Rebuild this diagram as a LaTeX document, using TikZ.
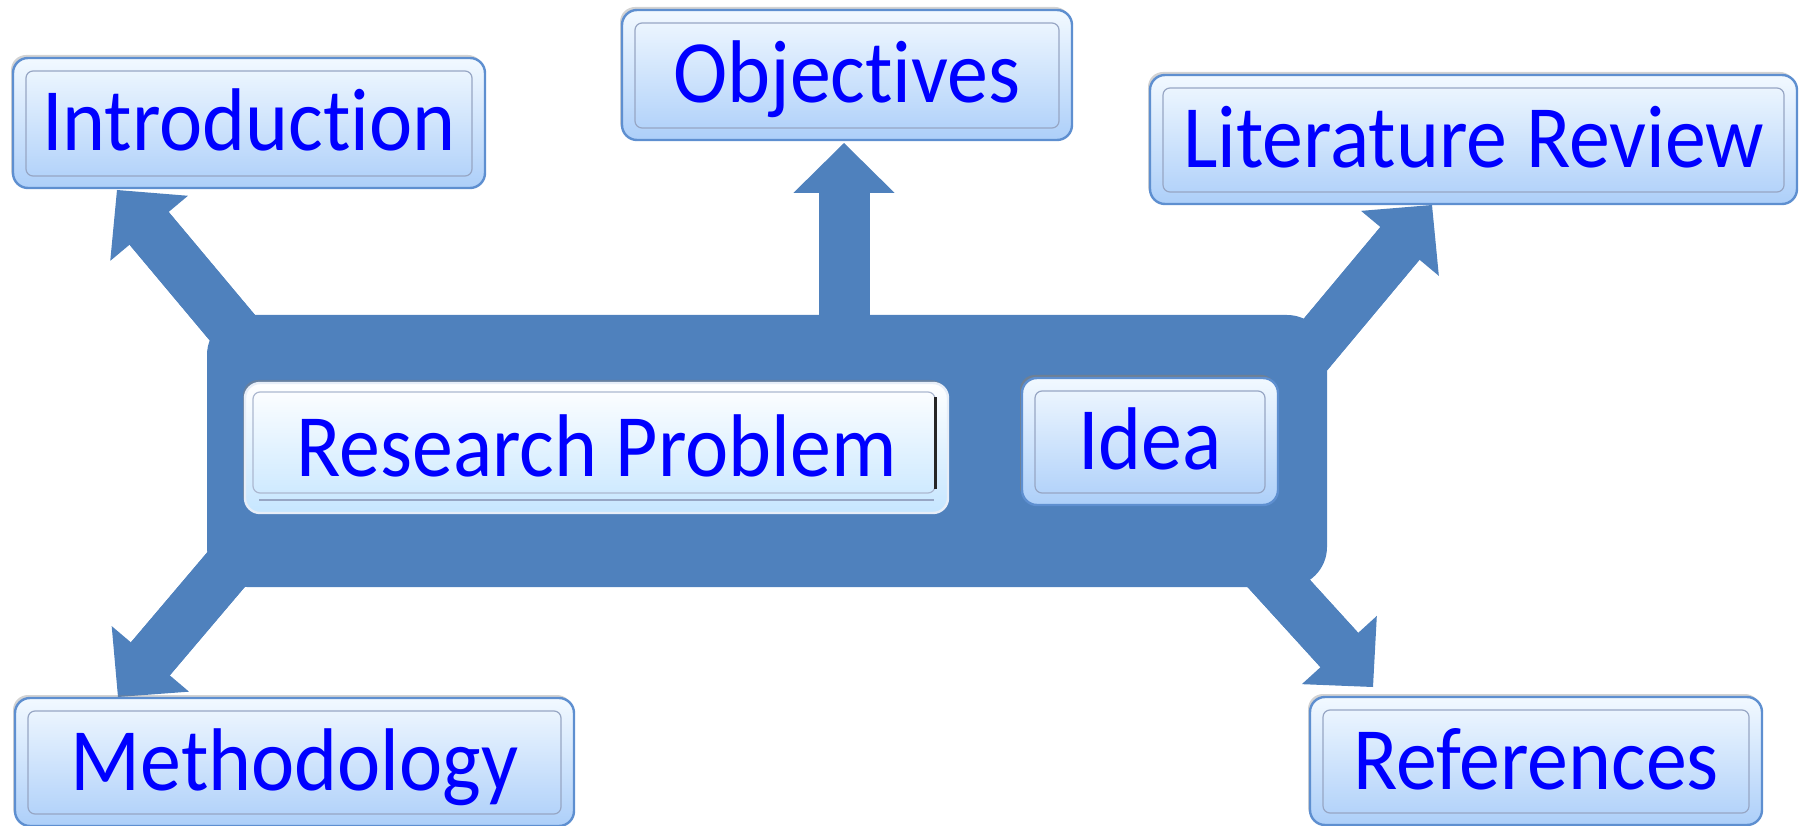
\documentclass[tikz,border=0pt]{standalone}
\usepackage{fontspec}
\setmainfont{Carlito}[FakeStretch=0.92, Ligatures=NoCommon]
\usetikzlibrary{arrows.meta,shadows,backgrounds,calc}
\definecolor{hubblue}{HTML}{4F81BD}
\definecolor{boxtop}{HTML}{F2F9FF}
\definecolor{boxbot}{HTML}{ADCFF9}
\definecolor{boxedge}{HTML}{5E8FD0}
\definecolor{inneredge}{HTML}{97A6C4}
\definecolor{txtblue}{HTML}{0000FF}
\definecolor{rpbot}{HTML}{C6E6FF}
\newcommand\myblockarrow[2]{%
  \draw[blockarrow] #1 -- #2;
  \draw[blockshaft] #1 -- ($#2!30pt!#1$);}
\begin{document}
\begin{tikzpicture}[x=1pt,y=-1pt,
  lbl/.style={font=\fontsize{89}{100}\selectfont, text=txtblue, text height=56pt, text depth=0pt, inner sep=0pt, outer sep=0pt},
  box/.style={lbl, rectangle, rounded corners=15pt, draw=boxedge, line width=2.4pt, top color=boxtop, bottom color=boxbot,
    drop shadow={opacity=0.35, shadow xshift=-2pt, shadow yshift=3pt}},
  darkbox/.style={box, drop shadow={opacity=0.45, shadow xshift=-2pt, shadow yshift=3pt}},
  rpbox/.style={lbl, rectangle, rounded corners=15pt, draw=white!85!boxedge, line width=2.4pt, top color=white, bottom color=rpbot,
    drop shadow={opacity=0.45, shadow xshift=-2pt, shadow yshift=3pt}},
  innerbox/.style={draw=inneredge, line width=1.2pt, rounded corners=7pt},
  hubshape/.style={rectangle, fill=hubblue, rounded corners=40pt, inner sep=0pt, outer sep=0pt},
  blockarrow/.style={draw=hubblue, line width=51pt, line cap=butt, -{Triangle[length=50pt, width=101pt, line width=2pt, fill=hubblue, color=hubblue]}},
  blockshaft/.style={draw=hubblue, line width=51pt, line cap=butt}
]
\useasboundingbox (0,0) rectangle (1800,826);

\begin{pgfonlayer}{background}
  \node[hubshape, minimum width=1120pt, minimum height=272pt] (hub) at (767,451) {};
\end{pgfonlayer}

\node[box, minimum width=472pt, minimum height=130pt] (intro) at (249,123) {Introduction};
\node[box, minimum width=450pt, minimum height=130pt] (obj) at (847,75) {Objectives};
\node[box, minimum width=647pt, minimum height=129pt] (lit) at (1473.5,139.5) {Literature Review};
\node[box, minimum width=559pt, minimum height=128pt] (meth) at (294.5,762) {Methodology};
\node[box, minimum width=452pt, minimum height=128pt] (refs) at (1536,761) {References};
\node[darkbox, minimum width=256pt, minimum height=127pt] (idea) at (1150,441.5) {Idea};
\node[rpbox, minimum width=703pt, minimum height=130pt] (rp) at (596.5,448) {Research Problem};

\foreach \n in {intro,obj,lit,meth,refs,idea}
  \draw[innerbox] ([shift={(13,13)}]\n.north west) rectangle ([shift={(-13,-12)}]\n.south east);

\draw[innerbox, draw=inneredge!80] ([shift={(8,9)}]rp.north west) rectangle ([shift={(-13,-20)}]rp.south east);
\draw[line width=3pt, draw=black!85] ([shift={(-13,14)}]rp.north east) -- ([shift={(-13,-24)}]rp.south east);
\draw[line width=1.2pt, draw=inneredge] ([shift={(14,-13)}]rp.south west) -- ([shift={(-14,-13)}]rp.south east);

\begin{pgfonlayer}{background}
  \myblockarrow{($(hub.north west)+(39,29)$)}{($(intro.south west)+(104,2)$)}
  \myblockarrow{($(hub.north)+(77,25)$)}{($(obj.south)+(-3,3)$)}
  \myblockarrow{($(hub.north east)+(-37,60)$)}{($(lit.south west)+(282,1)$)}
  \myblockarrow{($(hub.south west)+(34,-35)$)}{($(meth.north west)+(103,-1)$)}
  \myblockarrow{($(hub.south east)+(-76,-34)$)}{($(refs.north west)+(63,-10)$)}
\end{pgfonlayer}
\end{tikzpicture}
\end{document}
